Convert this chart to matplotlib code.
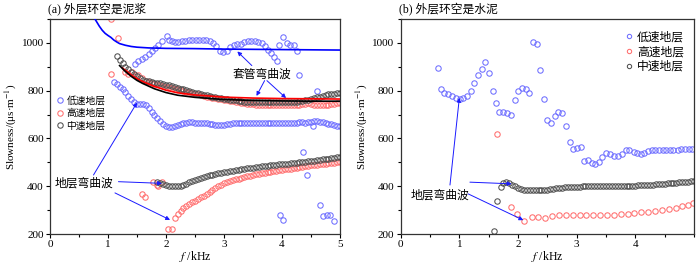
import matplotlib
matplotlib.use("Agg")
import matplotlib.pyplot as plt
from matplotlib.ticker import MultipleLocator

plt.rcParams['font.family'] = ['Liberation Serif', 'Noto Sans CJK SC']
plt.rcParams['mathtext.fontset'] = 'stix'

# ---------------- data: panel (a) mud ----------------
a_blue_line_f = [0.75, 0.8, 0.85, 0.9, 0.95, 1.0, 1.05, 1.1, 1.15, 1.2, 1.3, 1.4, 1.5, 1.7, 2.0, 2.5, 3.0, 3.5, 4.0, 4.5, 5.0]
a_blue_line_v = [1110, 1090, 1070, 1053, 1040, 1031, 1023, 1012, 1004, 997, 990, 985, 982, 979, 977, 976, 974, 973, 972, 971, 970]
a_black_line_f = [1.2, 1.3, 1.4, 1.5, 1.6, 1.8, 2.0, 2.2, 2.5, 3.0, 3.5, 4.0, 4.5, 5.0]
a_black_line_v = [905, 880, 860, 843, 830, 808, 792, 781, 772, 763, 759, 757, 756, 756]
a_red_line_f = [1.25, 1.3, 1.4, 1.5, 1.6, 1.8, 2.0, 2.2, 2.5, 3.0, 3.5, 4.0, 4.5, 5.0]
a_red_line_v = [895, 885, 866, 850, 838, 818, 802, 791, 782, 773, 769, 767, 766, 765]

a_blue_low_f = [1.10, 1.15, 1.20, 1.25, 1.30, 1.35, 1.40, 1.45, 1.50, 1.55, 1.60, 1.65, 1.70, 1.75, 1.80, 1.85,
                1.90, 1.95, 2.00, 2.05, 2.10, 2.15, 2.20, 2.25, 2.30, 2.35, 2.40, 2.45, 2.50, 2.55, 2.60, 2.65,
                2.70, 2.75, 2.80, 2.85, 2.90, 2.95, 3.00, 3.05, 3.10, 3.15, 3.20, 3.25, 3.30, 3.35, 3.40, 3.45,
                3.50, 3.55, 3.60, 3.65, 3.70, 3.75, 3.80, 3.85, 3.90, 3.95, 4.00, 4.05, 4.10, 4.15, 4.20, 4.25,
                4.30, 4.35, 4.40, 4.45, 4.50, 4.55, 4.60, 4.65, 4.70, 4.75, 4.80, 4.85, 4.90, 4.95, 5.00]
a_blue_low_v = [838, 828, 816, 806, 794, 778, 765, 753, 746, 745, 744, 739, 727, 710, 697, 684,
                671, 659, 651, 648, 648, 652, 657, 661, 664, 666, 667, 667, 666, 665, 665, 664,
                663, 661, 659, 658, 657, 657, 658, 660, 662, 664, 665, 666, 666, 665, 665, 664,
                664, 665, 666, 666, 666, 665, 665, 665, 665, 666, 666, 666, 666, 665, 665, 666,
                667, 667, 666, 667, 670, 673, 672, 670, 668, 665, 662, 660, 657, 654, 652]
a_blue_other_f = [1.47, 1.52, 1.58, 1.64, 1.70, 1.75, 1.81, 1.87, 1.93, 2.01, 2.05, 2.10, 2.16, 2.21, 2.27, 2.33,
                  2.39, 2.45, 2.51, 2.57, 2.63, 2.69, 2.75, 2.81, 2.87, 2.93, 2.99, 3.05, 3.11, 3.17, 3.23, 3.29,
                  3.35, 3.41, 3.47, 3.53, 3.59, 3.65, 3.71, 3.76, 3.81, 3.86, 3.91,
                  3.95, 4.01, 4.08, 4.14, 4.20, 4.25, 4.30, 4.60, 3.97, 4.02, 4.37, 4.43, 4.66, 4.71, 4.77,
                  4.83, 4.90, 4.53]
a_blue_other_v = [911, 923, 934, 943, 954, 964, 978, 992, 1006, 1027, 1013, 1008, 1002, 1004, 1007, 1009,
                  1010, 1011, 1011, 1011, 1011, 1010, 1008, 999, 985, 967, 962, 968, 982, 990, 995, 997,
                  1002, 1007, 1008, 1008, 1005, 999, 988, 972, 957, 940, 924,
                  992, 1024, 999, 992, 990, 966, 864, 800, 280, 259, 542, 447, 322, 277, 280,
                  280, 256, 650]

a_black_up_f = [1.15, 1.20, 1.25, 1.30, 1.35, 1.40, 1.45, 1.50, 1.55, 1.60, 1.65, 1.70, 1.75, 1.80, 1.85,
                1.90, 1.95, 2.00, 2.05, 2.10, 2.15, 2.20, 2.25, 2.30, 2.35, 2.40, 2.45, 2.50, 2.55, 2.60, 2.65,
                2.70, 2.75, 2.80, 2.85, 2.90, 2.95, 3.00, 3.05, 3.10, 3.15, 3.20, 3.25, 3.30, 3.35, 3.40, 3.45,
                3.50, 3.55, 3.60, 3.65, 3.70, 3.75, 3.80, 3.85, 3.90, 3.95, 4.00, 4.05, 4.10, 4.15, 4.20, 4.25,
                4.30, 4.35, 4.40, 4.45, 4.50, 4.55, 4.60, 4.65, 4.70, 4.75, 4.80, 4.85, 4.90, 4.95, 5.00]
a_black_up_v = [947, 930, 915, 900, 890, 880, 870, 860, 852, 846, 842, 839, 836, 834, 832,
                830, 828, 825, 822, 818, 815, 812, 809, 806, 802, 798, 795, 792, 789, 786, 783,
                780, 777, 775, 773, 771, 769, 767, 765, 763, 761, 759, 757, 755, 754, 753, 752,
                752, 751, 751, 751, 751, 751, 751, 752, 752, 752, 752, 752, 752, 752, 753, 754,
                756, 758, 760, 763, 766, 769, 772, 775, 778, 781, 784, 786, 788, 790, 792]
a_black_low_f = [1.85, 1.90, 1.95, 2.00, 2.05, 2.10, 2.15, 2.20, 2.25, 2.30, 2.35, 2.40, 2.45, 2.50, 2.55,
                 2.60, 2.65, 2.70, 2.75, 2.80, 2.85, 2.90, 2.95, 3.00, 3.05, 3.10, 3.15, 3.20, 3.25, 3.30,
                 3.35, 3.40, 3.45, 3.50, 3.55, 3.60, 3.65, 3.70, 3.75, 3.80, 3.85, 3.90, 3.95, 4.00, 4.05,
                 4.10, 4.15, 4.20, 4.25, 4.30, 4.35, 4.40, 4.45, 4.50, 4.55, 4.60, 4.65, 4.70, 4.75, 4.80,
                 4.85, 4.90, 4.95, 5.00]
a_black_low_v = [418, 414, 410, 406, 403, 401, 400, 400, 402, 406, 411, 416, 421, 426, 430,
                 434, 438, 442, 445, 448, 451, 454, 456, 459, 461, 463, 465, 467, 469, 471,
                 473, 475, 477, 478, 480, 481, 483, 484, 486, 487, 489, 490, 491, 493, 494,
                 495, 497, 498, 499, 500, 502, 503, 504, 506, 507, 509, 510, 512, 513, 515,
                 517, 519, 521, 524]

a_red_up_f = [1.05, 1.06, 1.17, 1.29, 1.35, 1.41, 1.47, 1.52, 1.58,
              1.65, 1.70, 1.75, 1.80, 1.85, 1.90, 1.95, 2.00, 2.05, 2.10, 2.15, 2.20, 2.25, 2.30, 2.35,
              2.40, 2.45, 2.50, 2.55, 2.60, 2.65, 2.70, 2.75, 2.80, 2.85, 2.90, 2.95, 3.00, 3.05, 3.10,
              3.15, 3.20, 3.25, 3.30, 3.35, 3.40, 3.45, 3.50, 3.55, 3.60, 3.65, 3.70, 3.75, 3.80, 3.85,
              3.90, 3.95, 4.00, 4.05, 4.10, 4.15, 4.20, 4.25, 4.30, 4.35, 4.40, 4.45, 4.50, 4.55, 4.60,
              4.65, 4.70, 4.75, 4.80, 4.85, 4.90, 4.95, 5.00]
a_red_up_v = [1098, 869, 1021, 880, 870, 880, 866, 866, 852,
              840, 836, 832, 829, 826, 823, 820, 817, 814, 811, 808, 805, 802, 799, 796,
              793, 790, 787, 784, 781, 778, 775, 772, 770, 768, 766, 764, 762, 760, 758,
              756, 754, 752, 750, 748, 746, 744, 743, 742, 741, 740, 740, 739, 739, 739,
              739, 739, 739, 739, 739, 740, 740, 741, 742, 744, 746, 748, 745, 742, 740,
              739, 739, 740, 741, 743, 745, 747, 749]
a_red_low_f = [1.58, 1.64, 1.78, 1.84, 1.87, 1.93, 2.04, 2.10,
               2.15, 2.20, 2.25, 2.30, 2.35, 2.40, 2.45, 2.50, 2.55, 2.60, 2.65, 2.70, 2.75, 2.80, 2.85,
               2.90, 2.95, 3.00, 3.05, 3.10, 3.15, 3.20, 3.25, 3.30, 3.35, 3.40, 3.45, 3.50, 3.55, 3.60,
               3.65, 3.70, 3.75, 3.80, 3.85, 3.90, 3.95, 4.00, 4.05, 4.10, 4.15, 4.20, 4.25, 4.30, 4.35,
               4.40, 4.45, 4.50, 4.55, 4.60, 4.65, 4.70, 4.75, 4.80, 4.85, 4.90, 4.95, 5.00]
a_red_low_v = [368, 354, 417, 407, 400, 417, 221, 221,
               268, 285, 298, 308, 317, 325, 332, 339, 346, 353, 361, 369, 377, 385, 393,
               401, 407, 412, 417, 421, 425, 429, 432, 435, 438, 441, 444, 447, 450, 453,
               455, 457, 459, 461, 463, 465, 467, 468, 470, 472, 474, 476, 478, 480, 482,
               484, 485, 487, 488, 490, 491, 493, 494, 496, 497, 498, 500, 501]

# ---------------- data: panel (b) cement ----------------
b_blue_f = [0.63, 0.69, 0.74, 0.81, 0.88, 0.94, 1.01, 1.07, 1.13, 1.19, 1.25, 1.31, 1.38, 1.44, 1.50, 1.57,
            1.63, 1.68, 1.75, 1.81, 1.88, 1.95, 2.00, 2.06, 2.13, 2.19, 2.25, 2.32, 2.38, 2.44, 2.50, 2.56,
            2.63, 2.69, 2.75, 2.82, 2.88, 2.93, 3.00, 3.07, 3.13, 3.20, 3.26, 3.32, 3.38, 3.44, 3.50, 3.57,
            3.63, 3.70, 3.77, 3.84, 3.90, 3.97, 4.03, 4.09, 4.15, 4.21, 4.28, 4.34, 4.40, 4.47, 4.53, 4.59,
            4.65, 4.72, 4.78, 4.84, 4.91, 4.97]
b_blue_v = [894, 807, 791, 788, 777, 770, 767, 770, 777, 798, 830, 864, 892, 922, 874, 798,
            747, 710, 710, 708, 697, 759, 798, 811, 805, 791, 1005, 994, 885, 766, 677, 664,
            694, 710, 705, 652, 585, 555, 562, 566, 505, 508, 497, 495, 502, 524, 541, 535,
            528, 527, 535, 550, 553, 545, 537, 533, 538, 547, 551, 552, 551, 550, 550, 551,
            552, 553, 554, 555, 556, 557]
b_red_f = [1.64, 1.88, 1.99, 2.11, 2.23, 2.34, 2.46, 2.58, 2.70, 2.81, 2.93, 3.05, 3.16, 3.28, 3.40, 3.52,
           3.63, 3.75, 3.87, 3.98, 4.10, 4.22, 4.34, 4.45, 4.57, 4.69, 4.80, 4.90, 4.99]
b_red_v = [618, 311, 283, 254, 272, 272, 269, 274, 278, 279, 279, 278, 278, 279, 279, 280,
           281, 283, 285, 288, 291, 294, 297, 301, 305, 310, 316, 323, 331]
b_black_f = [1.59, 1.65, 1.71,
             1.75, 1.80, 1.85, 1.90, 1.95, 2.00, 2.05, 2.10, 2.15, 2.20, 2.25, 2.30, 2.35, 2.40, 2.45,
             2.50, 2.55, 2.60, 2.65, 2.70, 2.75, 2.80, 2.85, 2.90, 2.95, 3.00, 3.05, 3.10, 3.15, 3.20,
             3.25, 3.30, 3.35, 3.40, 3.45, 3.50, 3.55, 3.60, 3.65, 3.70, 3.75, 3.80, 3.85, 3.90, 3.95,
             4.00, 4.05, 4.10, 4.15, 4.20, 4.25, 4.30, 4.35, 4.40, 4.45, 4.50, 4.55, 4.60, 4.65, 4.70,
             4.75, 4.80, 4.85, 4.90, 4.95, 5.00]
b_black_v = [214, 338, 396,
             413, 416, 413, 406, 399, 393, 388, 385, 384, 383, 383, 383, 384, 384, 385,
             386, 387, 389, 391, 393, 394, 395, 396, 397, 397, 398, 398, 399, 399, 399,
             399, 400, 400, 400, 400, 400, 400, 401, 401, 401, 401, 402, 402, 402, 403,
             403, 404, 404, 405, 406, 407, 407, 408, 409, 410, 411, 412, 413, 414, 415,
             416, 417, 418, 419, 420, 421]

legend_labels = ['低速地层', '高速地层', '中速地层']
titles = ['(a) 外层环空是泥浆', '(b) 外层环空是水泥']

# ---------------- styles ----------------
C_BLUE = '#6e6eff'
C_RED = '#ff6e6e'
C_BLACK = '#505050'
ARROW = '#1a1aff'
mk = dict(marker='o', linestyle='none', markersize=3.9, markerfacecolor='none', markeredgewidth=0.75)
CJK = ['Noto Sans CJK SC']

fig = plt.figure(figsize=(7.0, 2.68), dpi=100)
axA = fig.add_axes([50/700, 1-234/268, 290/700, 215/268])
axB = fig.add_axes([400.7/700, 1-234/268, 293.3/700, 215/268])

for ax in (axA, axB):
    ax.set_ylim(200, 1100)
    ax.set_xlim(0, 5)
    ax.yaxis.set_major_locator(MultipleLocator(200))
    ax.yaxis.set_minor_locator(MultipleLocator(100))
    ax.xaxis.set_minor_locator(MultipleLocator(0.5))
    ax.tick_params(which='both', direction='out', labelsize=8, length=3, width=0.8, pad=1.5)
    ax.tick_params(which='minor', length=2)
    for s in ax.spines.values():
        s.set_linewidth(0.9)
        s.set_color('#333333')
    ax.set_ylabel(r'Slowness/(μs·m$^{-1}$)', fontsize=8, labelpad=2)
    ax.set_xlabel(r'$f$ /kHz', fontsize=8.5, labelpad=0)

axA.set_xticks([0, 1, 2, 3, 4, 5])
axB.set_xticks([0, 1, 2, 3, 4])
axA.set_yticks([200, 400, 600, 800, 1000])
axB.set_yticks([200, 400, 600, 800, 1000])

# panel a
axA.plot(a_blue_line_f, a_blue_line_v, color='#0000ff', lw=1.2, zorder=3)
axA.plot(a_blue_low_f, a_blue_low_v, color=C_BLUE, label=legend_labels[0], zorder=2, **mk)
axA.plot(a_blue_other_f, a_blue_other_v, color=C_BLUE, zorder=2, **mk)
axA.plot(a_red_up_f, a_red_up_v, color=C_RED, label=legend_labels[1], zorder=2, **mk)
axA.plot(a_red_low_f, a_red_low_v, color=C_RED, zorder=2, **mk)
axA.plot(a_black_up_f, a_black_up_v, color=C_BLACK, label=legend_labels[2], zorder=2, **mk)
axA.plot(a_black_low_f, a_black_low_v, color=C_BLACK, zorder=2, **mk)
axA.plot(a_red_line_f, a_red_line_v, color='#ff0000', lw=1.2, zorder=4)
axA.plot(a_black_line_f, a_black_line_v, color='#000000', lw=1.2, zorder=4)

legA = axA.legend(loc='upper left', bbox_to_anchor=(0.0, 0.67), frameon=False,
                  prop={'family': CJK, 'size': 7}, handlelength=0.8, handletextpad=0.3,
                  labelspacing=0.25, borderaxespad=0.2)

ap = dict(arrowstyle='-|>', color=ARROW, lw=0.7, mutation_scale=6, shrinkA=0, shrinkB=0)
axA.text(3.66, 869, '套管弯曲波', family=CJK, fontsize=8.5, ha='center', va='center')
axA.annotate('', xy=(3.23, 964), xytext=(3.48, 905), arrowprops=ap)
axA.annotate('', xy=(3.56, 778), xytext=(3.70, 842), arrowprops=ap)
axA.annotate('', xy=(4.07, 769), xytext=(3.74, 842), arrowprops=ap)

axA.text(0.59, 415, '地层弯曲波', family=CJK, fontsize=8.5, ha='center', va='center')
axA.annotate('', xy=(1.50, 750), xytext=(0.75, 447), arrowprops=ap)
axA.annotate('', xy=(1.93, 412), xytext=(1.18, 419), arrowprops=ap)
axA.annotate('', xy=(2.07, 259), xytext=(1.12, 372), arrowprops=ap)

# panel b
axB.plot(b_blue_f, b_blue_v, color=C_BLUE, label=legend_labels[0], **mk)
axB.plot(b_red_f, b_red_v, color=C_RED, label=legend_labels[1], **mk)
axB.plot(b_black_f, b_black_v, color=C_BLACK, label=legend_labels[2], **mk)
legB = axB.legend(loc='upper right', bbox_to_anchor=(0.99, 0.98), frameon=False,
                  prop={'family': CJK, 'size': 8.5}, handlelength=0.6, handletextpad=0.35,
                  labelspacing=0.15, markerscale=0.8, borderaxespad=0.2)

axB.text(0.67, 365, '地层弯曲波', family=CJK, fontsize=8.5, ha='center', va='center')
axB.annotate('', xy=(1.00, 770), xytext=(0.84, 405), arrowprops=ap)
axB.annotate('', xy=(1.89, 410), xytext=(1.18, 417), arrowprops=ap)
axB.annotate('', xy=(2.09, 258), xytext=(1.15, 368), arrowprops=ap)

fig.text(48/700, 1-10/268, titles[0], fontsize=8.5, ha='left', va='center')
fig.text(399/700, 1-10/268, titles[1], fontsize=8.5, ha='left', va='center')

fig.savefig('out.png', dpi=100)
